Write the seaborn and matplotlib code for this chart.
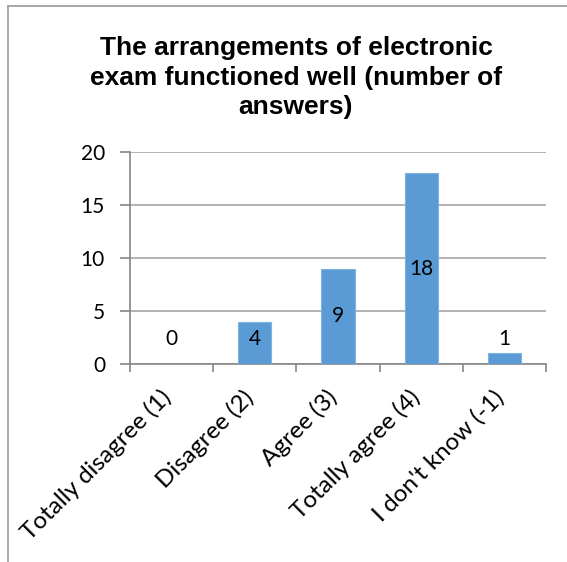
import matplotlib
matplotlib.use("Agg")
import matplotlib.pyplot as plt
import matplotlib.transforms as mtransforms
from matplotlib.patches import Rectangle
import seaborn as sns
import pandas as pd

categories = ["Totally disagree (1)", "Disagree (2)", "Agree (3)",
              "Totally agree (4)", "I don't know (-1)"]
answers = [0, 4, 9, 18, 1]
y_ticks = [0, 5, 10, 15, 20]
title = "The arrangements of electronic\nexam functioned well (number of\nanswers)"

df = pd.DataFrame({"category": categories, "answers": answers})

sns.set_theme(style="white")
plt.rcParams["font.family"] = ["Lato", "DejaVu Sans"]
plt.rcParams["text.color"] = "black"

fig = plt.figure(figsize=(5.67, 5.62), dpi=100)
ax = fig.add_axes([0.2293, 0.3523, 0.7337, 0.3772])

sns.barplot(data=df, x="category", y="answers", color="#5B9BD5",
            width=0.4, saturation=1, edgecolor="#7fb3e0", linewidth=0.8,
            ax=ax, zorder=3)

ax.set_ylim(0, 20)
ax.set_xlim(-0.5, len(categories) - 0.5)
ax.set_yticks(y_ticks)
ax.set_xlabel("")
ax.set_ylabel("")

# horizontal gridlines
ax.yaxis.grid(True, color="#a6a6a6", linewidth=1.2, zorder=0)
ax.set_axisbelow(True)

for side in ("top", "right"):
    ax.spines[side].set_visible(False)
for side in ("left", "bottom"):
    ax.spines[side].set_color("#868686")
    ax.spines[side].set_linewidth(1.2)

ax.tick_params(axis="y", which="major", length=7, width=1.2, color="#868686",
               direction="out", labelsize=15, labelcolor="black", pad=11,
               left=True)

# category separators as tick marks on the x axis
ax.set_xticks([i - 0.5 for i in range(len(categories) + 1)], minor=True)
ax.tick_params(axis="x", which="minor", length=6, width=1.2, color="#868686",
               direction="out", bottom=True)
ax.tick_params(axis="x", which="major", length=0, labelsize=17.5,
               labelcolor="black", pad=16)
ax.set_xticks(range(len(categories)))
ax.set_xticklabels(categories, rotation=45, ha="right", rotation_mode="anchor")

# nudge the slanted category labels a little to the left
shift = mtransforms.ScaledTranslation(-0.12, 0.0, fig.dpi_scale_trans)
for lbl in ax.get_xticklabels():
    lbl.set_transform(lbl.get_transform() + shift)

# value labels
for i, v in enumerate(answers):
    ax.text(i, max(v / 2, 2.4), str(v), ha="center", va="center",
            fontsize=15, color="black", zorder=4)

fig.text(0.522, 0.862, title, ha="center", va="center", fontsize=19,
         fontweight="bold", family=["Liberation Sans", "DejaVu Sans"],
         linespacing=1.3, color="black")

# outer chart frame
fig.patches.append(Rectangle((8 / 567, -0.1), 1.2, 1 - 6 / 562 + 0.1,
                             transform=fig.transFigure, fill=False,
                             edgecolor="#a0a0a0", linewidth=1.3))

fig.savefig("out.png", dpi=100, facecolor="white")
